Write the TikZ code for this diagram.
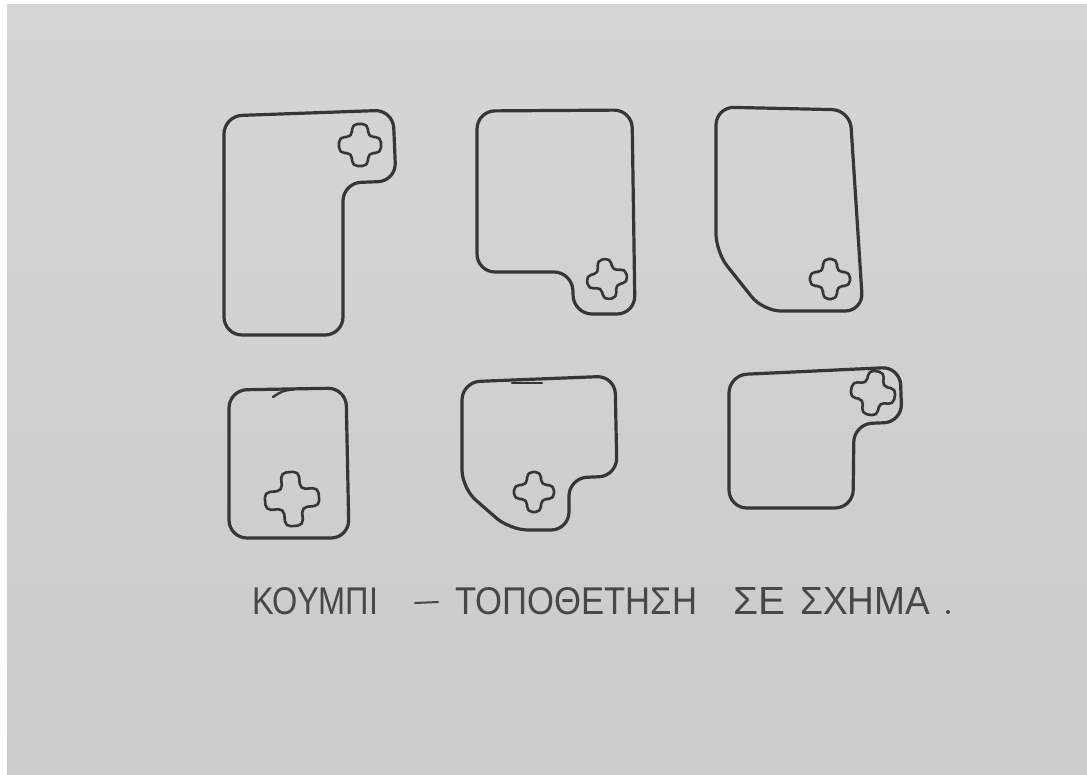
\documentclass[tikz,border=0pt]{standalone}
\usepackage{fontspec}
\newfontfamily\handfont{Liberation Sans}
\definecolor{paper}{HTML}{D5D5D5}
\definecolor{paperlow}{HTML}{CBCBCB}
\definecolor{pencil}{HTML}{363636}
\definecolor{inktext}{HTML}{474747}
\tikzset{
	shp/.style={draw=pencil, line width=3.2pt, line join=round, line cap=round, rounded corners=18pt},
	btn/.style={draw=pencil, line width=2.6pt, line join=round, rounded corners=5.5pt},
	wrd/.style={anchor=base west, inner sep=0pt, text=inktext, font=\handfont}
}
% plus-shaped button: name, centre, half length, half width, rotation
\newcommand{\btnplus}[5]{%
	\draw[btn, rotate around={#5:(#2)}] (#2) ++(-#4,-#3) coordinate (#1)
		-- ++(2*#4,0) -- ++(0,#3-#4) -- ++(#3-#4,0) -- ++(0,2*#4)
		-- ++(-#3+#4,0) -- ++(0,#3-#4) -- ++(-2*#4,0) -- ++(0,-#3+#4)
		-- ++(-#3+#4,0) -- ++(0,-2*#4) -- ++(#3-#4,0) -- cycle;}
\newcommand{\wordfit}[4]{\node[wrd] (#1) at (#2,614) {\resizebox{#3pt}{27pt}{#4}};}
\begin{document}
\begin{tikzpicture}[x=1pt, y=-1pt]
	% paper
	\fill[white] (0,0) rectangle (1087,774);
	\shade[top color=paper, bottom color=paperlow] (7,4) rectangle (1087,774);
	\useasboundingbox (0,0) rectangle (1087,774);
	% top row
	\draw[shp] (224,335) -- (224,116) -- (393,110) -- (396,181) -- (343,183) -- (343,335) -- cycle;
	\btnplus{b1}{360,145}{21}{8}{0}
	\draw[shp] (477,272) -- (477,111) -- (632,110) -- (635,314) -- (574,314) -- (572,272) -- cycle;
	\btnplus{b2}{607,279}{20}{7}{10}
	\draw[shp] (716,252) -- (716,107) -- (850,110) -- (863,311) -- (763,311) -- cycle;
	\btnplus{b3}{830,279}{20}{7}{0}
	% bottom row
	\draw[shp] (229,538) -- (229,390) -- (346,388) -- (349,538) -- cycle;
	\draw[pencil, line width=2.4pt, line cap=round] (273,397) .. controls (282,391) .. (295,389);
	\btnplus{b4}{292,499}{27}{9}{5}
	\draw[shp] (462,488) -- (462,382) -- (615,376) -- (617,476) -- (569,478) -- (569,530) -- (510,530) -- cycle;
	\draw[pencil, line width=2.4pt, line cap=round] (512,383) -- (542,383);
	\btnplus{b5}{534,492}{20}{7}{0}
	\draw[shp] (729,508) -- (729,375) -- (900,367) -- (902,422) -- (854,424) -- (853,508) -- cycle;
	\btnplus{b6}{873,393}{22}{8}{-10}
	% caption
	\wordfit{w1}{252}{126}{ΚΟΥΜΠΙ}
	\wordfit{w3}{455}{242}{ΤΟΠΟΘΕΤΗΣΗ}
	\wordfit{w4}{733}{52}{ΣΕ}
	\wordfit{w5}{800}{130}{ΣΧΗΜΑ}
	\draw[inktext, line width=2pt, line cap=round] (415,603) coordinate (d1) -- (438,602) coordinate (d2);
	\fill[inktext] (948,612) circle (2pt) coordinate (dot);
\end{tikzpicture}
\end{document}
